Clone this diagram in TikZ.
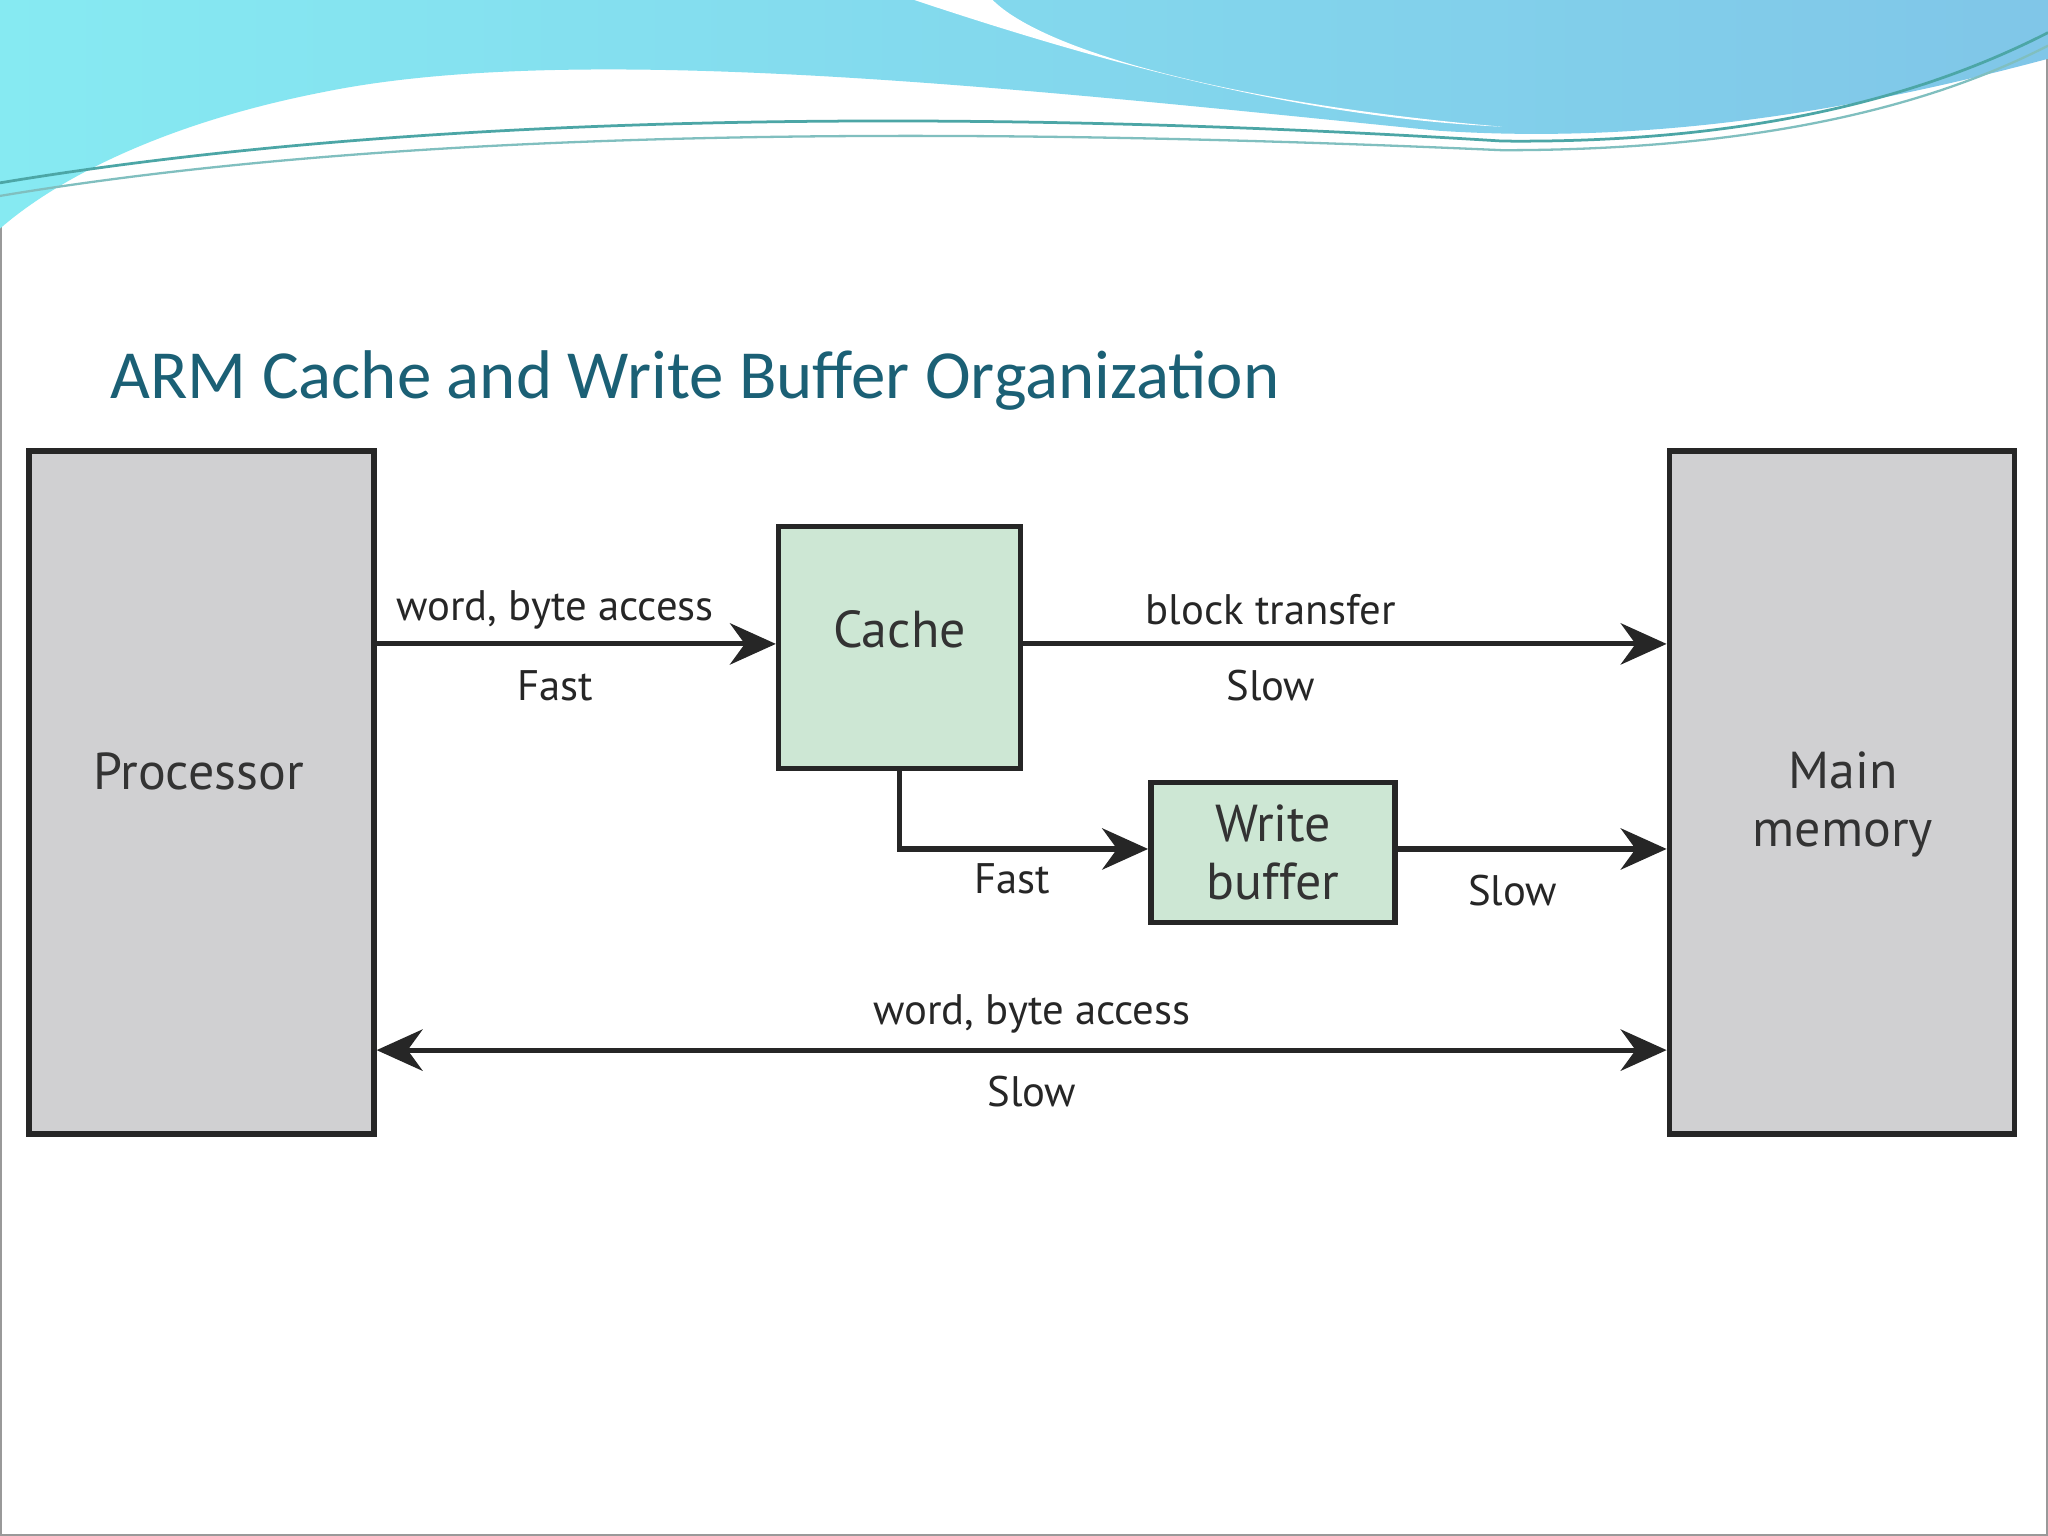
\documentclass[tikz,border=0pt]{standalone}
\usepackage{fontspec}
\setmainfont{PT Sans}
\newfontfamily\titlefont{Carlito}
\usetikzlibrary{arrows.meta}
\definecolor{boxgray}{HTML}{D0D0D2}
\definecolor{boxgreen}{HTML}{CDE7D4}
\definecolor{titlecol}{HTML}{1B6075}
\definecolor{wcyan}{HTML}{86EAF2}
\definecolor{wblue}{HTML}{80C6E8}
\tikzset{
  blk/.style={draw=black!85,line width=1.2pt,fill=boxgray},
  grn/.style={draw=black!85,line width=1.2pt,fill=boxgreen},
  arr/.style={line width=1.1pt,draw=black!85,-{Stealth[length=10pt,width=9pt]}},
  lbl/.style={font=\fontsize{9.3}{10}\selectfont,text=black!85},
  big/.style={font=\fontsize{11.3}{12.5}\selectfont,text=black!80,align=center}
}
\begin{document}
\begin{tikzpicture}[x=0.01cm,y=-0.01cm]
\useasboundingbox (0,0) rectangle (1568,1176);
\fill[white!96!blue!1] (0,0) rectangle (1568,1176);
\draw[black!40,line width=0.5pt] (0.5,0.5) rectangle (1567.5,1175.5);
% wave
\shade[left color=wcyan,right color=wblue] (0,0) -- (1568,0) -- (1568,45)
  .. controls (1400,90) and (1250,110) .. (1100,100)
  .. controls (800,70) and (450,30) .. (250,70)
  .. controls (120,95) and (40,140) .. (0,175) -- cycle;
\fill[white] (700,0) .. controls (850,50) and (1000,90) .. (1150,97)
  .. controls (950,80) and (800,40) .. (760,0) -- cycle;
\draw[teal!70,line width=0.6pt] (0,140) .. controls (300,90) and (700,80) .. (1150,108) .. controls (1350,110) and (1480,70) .. (1568,25);
\draw[teal!50,line width=0.5pt] (0,150) .. controls (300,100) and (700,95) .. (1150,115) .. controls (1350,115) and (1480,80) .. (1568,35);
\node[anchor=base west,text=titlecol,font=\titlefont\fontsize{15}{18}\selectfont] (title) at (72,305) {ARM Cache and Write Buffer Organization};
\fill[white] (18,340) rectangle (1545,875);
% boxes
\node[blk,inner sep=0,anchor=north west,minimum width=2.64cm,minimum height=5.23cm] (proc) at (20,343) {};
\node[big] at (35+117,591) {Processor};
\node[blk,inner sep=0,anchor=north west,minimum width=2.64cm,minimum height=5.23cm] (mem) at (1276,343) {};
\node[big] at (1411,616) {Main\\memory};
\node[grn,inner sep=0,anchor=north west,minimum width=1.85cm,minimum height=1.85cm] (cache) at (594,401) {};
\node[big] at ([yshift=4]cache.center) {Cache};
\node[grn,inner sep=0,anchor=north west,minimum width=1.87cm,minimum height=1.07cm,big] (wb) at (879,597) {Write\\buffer};
% connectors
\coordinate (c1) at (cache.south |- 0,650);
\draw[arr] (proc.east |- 0,493) -- (cache.west |- 0,493);
\draw[arr] (cache.east |- 0,493) -- (mem.west |- 0,493);
\draw[arr] (cache.south) -- (c1) -- (wb.west |- c1);
\draw[arr] (wb.east |- c1) -- (mem.west |- c1);
\draw[arr,{Stealth[length=10pt,width=9pt]}-{Stealth[length=10pt,width=9pt]}] (proc.east |- 0,804) -- (mem.west |- 0,804);
% labels
\node[lbl] (l1) at (425,467) {word, byte access};
\node[lbl] (l2) at (425,525) {Fast};
\node[lbl] (l3) at (973,467) {block transfer};
\node[lbl] (l4) at (973,525) {Slow};
\node[lbl] (l5) at (775,673) {Fast};
\node[lbl] (l6) at (1158,682) {Slow};
\node[lbl] (l7) at (790,776) {word, byte access};
\node[lbl] (l8) at (790,836) {Slow};
\end{tikzpicture}
\end{document}
